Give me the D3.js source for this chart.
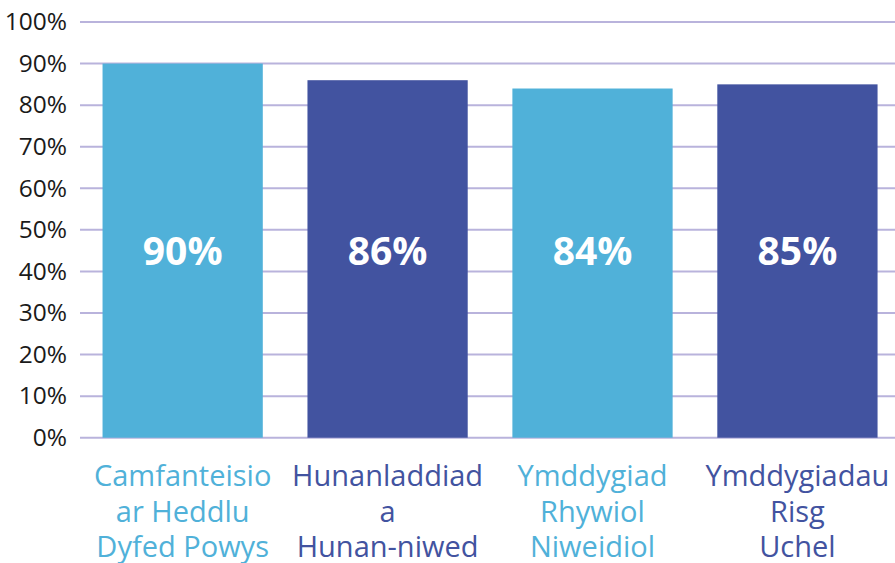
<!DOCTYPE html>
<html>
<head>
<meta charset="utf-8">
<script src="https://cdn.jsdelivr.net/npm/d3@7"></script>
<style>
  body { margin: 0; background: #fff; }
  text { font-family: "Open Sans", sans-serif; }
</style>
</head>
<body>
<div id="chart"></div>
<script>
// Data
const categories = [
  ["Camfanteisio", "ar Heddlu", "Dyfed Powys"],
  ["Hunanladdiad", "a", "Hunan-niwed"],
  ["Ymddygiad", "Rhywiol", "Niweidiol"],
  ["Ymddygiadau", "Risg", "Uchel"]
];
const values = [90, 86, 84, 85];
const yTicks = [0, 10, 20, 30, 40, 50, 60, 70, 80, 90, 100];

const colors = ["#50b1d9", "#4253a0", "#50b1d9", "#4253a0"];

const width = 895;
const height = 563;
const margin = { top: 22, right: 0, bottom: 125, left: 80 };

const svg = d3.select("#chart")
  .append("svg")
  .attr("width", width)
  .attr("height", height);

const xScale = d3.scaleBand()
  .domain(d3.range(values.length))
  .range([margin.left, 896])
  .paddingInner(0.218)
  .paddingOuter(0.1)
  .align(0.55);

const yScale = d3.scaleLinear()
  .domain([0, 100])
  .range([height - margin.bottom - 0.3, margin.top]);

// Gridlines
svg.append("g")
  .selectAll("line")
  .data(yTicks)
  .join("line")
  .attr("x1", margin.left)
  .attr("x2", width)
  .attr("y1", d => yScale(d))
  .attr("y2", d => yScale(d))
  .attr("stroke", "#b9b3dc")
  .attr("stroke-width", 2);

// Y axis labels
const yAxis = svg.append("g")
  .attr("transform", `translate(${margin.left - 13},0)`)
  .call(d3.axisLeft(yScale).tickValues(yTicks).tickFormat(d => d + "%").tickSize(0).tickPadding(0));
yAxis.select(".domain").remove();
yAxis.selectAll("text")
  .attr("font-family", "Open Sans, sans-serif")
  .attr("font-size", 24.5)
  .attr("fill", "#1a1a1a");

// Bars
svg.append("g")
  .selectAll("rect")
  .data(values)
  .join("rect")
  .attr("x", (d, i) => xScale(i))
  .attr("y", d => yScale(d))
  .attr("width", xScale.bandwidth())
  .attr("height", d => yScale(0) - yScale(d))
  .attr("fill", (d, i) => colors[i]);

// Value labels
svg.append("g")
  .selectAll("text")
  .data(values)
  .join("text")
  .attr("x", (d, i) => xScale(i) + xScale.bandwidth() / 2)
  .attr("y", yScale(45))
  .attr("dy", "0.36em")
  .attr("text-anchor", "middle")
  .attr("font-size", 39)
  .attr("font-weight", "bold")
  .attr("fill", "#fff")
  .text(d => d + "%");

// Category labels
const cat = svg.append("g")
  .selectAll("text")
  .data(categories)
  .join("text")
  .attr("text-anchor", "middle")
  .attr("font-size", 29)
  .attr("fill", (d, i) => colors[i]);

cat.selectAll("tspan")
  .data((d, i) => d.map(t => ({ t, i })))
  .join("tspan")
  .attr("x", d => xScale(d.i) + xScale.bandwidth() / 2)
  .attr("y", (d, j) => yScale(0) + 48.5 + j * 35.5)
  .text(d => d.t);
</script>
</body>
</html>
